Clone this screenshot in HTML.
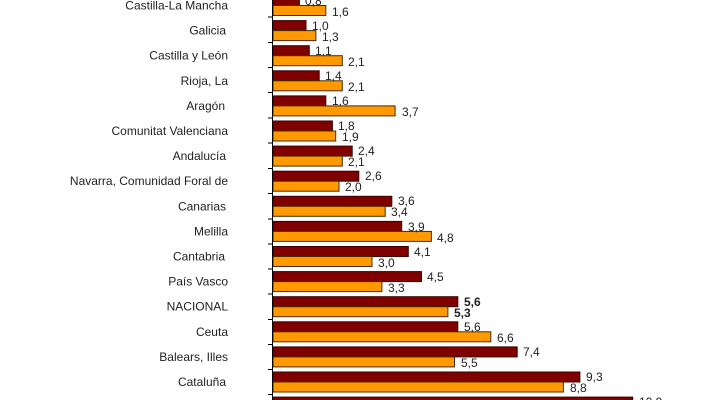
<!DOCTYPE html>
<html><head><meta charset="utf-8"><style>
html,body{margin:0;padding:0;background:#fff;width:722px;height:400px;overflow:hidden}
svg{display:block}
text{font-family:"Liberation Sans",Arial,sans-serif;font-size:12px;fill:#222}
.r{fill:#800000;stroke:#3a0000;stroke-width:1}
.o{fill:#FF9900;stroke:#4a2a00;stroke-width:1}
.c{text-anchor:end}
</style></head><body>
<svg width="722" height="400" viewBox="0 0 722 400">
<g>
<rect class="r" x="273" y="-4.5" width="26.4" height="10"/><rect class="o" x="273" y="5.5" width="52.8" height="10"/>
<rect class="r" x="273" y="20.6" width="33" height="10"/><rect class="o" x="273" y="30.6" width="42.9" height="10"/>
<rect class="r" x="273" y="45.7" width="36.3" height="10"/><rect class="o" x="273" y="55.7" width="69.3" height="10"/>
<rect class="r" x="273" y="70.8" width="46.2" height="10"/><rect class="o" x="273" y="80.8" width="69.3" height="10"/>
<rect class="r" x="273" y="95.9" width="52.8" height="10"/><rect class="o" x="273" y="105.9" width="122.1" height="10"/>
<rect class="r" x="273" y="121" width="59.4" height="10"/><rect class="o" x="273" y="131" width="62.7" height="10"/>
<rect class="r" x="273" y="146.1" width="79.2" height="10"/><rect class="o" x="273" y="156.1" width="69.3" height="10"/>
<rect class="r" x="273" y="171.2" width="85.8" height="10"/><rect class="o" x="273" y="181.2" width="66" height="10"/>
<rect class="r" x="273" y="196.3" width="118.8" height="10"/><rect class="o" x="273" y="206.3" width="112.2" height="10"/>
<rect class="r" x="273" y="221.4" width="128.7" height="10"/><rect class="o" x="273" y="231.4" width="158.4" height="10"/>
<rect class="r" x="273" y="246.5" width="135.3" height="10"/><rect class="o" x="273" y="256.5" width="99" height="10"/>
<rect class="r" x="273" y="271.6" width="148.5" height="10"/><rect class="o" x="273" y="281.6" width="108.9" height="10"/>
<rect class="r" x="273" y="296.7" width="184.8" height="10"/><rect class="o" x="273" y="306.7" width="174.9" height="10"/>
<rect class="r" x="273" y="321.8" width="184.8" height="10"/><rect class="o" x="273" y="331.8" width="217.8" height="10"/>
<rect class="r" x="273" y="346.9" width="244.2" height="10"/><rect class="o" x="273" y="356.9" width="181.5" height="10"/>
<rect class="r" x="273" y="372" width="306.9" height="10"/><rect class="o" x="273" y="382" width="290.4" height="10"/>
<rect class="r" x="273" y="397.1" width="359.7" height="10"/>
</g>
<line x1="272.5" y1="0" x2="272.5" y2="400" stroke="#000" stroke-width="1"/>
<g stroke="#000" stroke-width="1">
<line x1="268" y1="17" x2="273" y2="17"/><line x1="268" y1="42.5" x2="273" y2="42.5"/><line x1="268" y1="67.5" x2="273" y2="67.5"/><line x1="268" y1="92.5" x2="273" y2="92.5"/><line x1="268" y1="118" x2="273" y2="118"/><line x1="268" y1="143" x2="273" y2="143"/><line x1="268" y1="168.5" x2="273" y2="168.5"/><line x1="268" y1="193.5" x2="273" y2="193.5"/><line x1="268" y1="219" x2="273" y2="219"/><line x1="268" y1="244" x2="273" y2="244"/><line x1="268" y1="269" x2="273" y2="269"/><line x1="268" y1="294" x2="273" y2="294"/><line x1="268" y1="319.5" x2="273" y2="319.5"/><line x1="268" y1="344.5" x2="273" y2="344.5"/><line x1="268" y1="369.5" x2="273" y2="369.5"/><line x1="268" y1="394.5" x2="273" y2="394.5"/>
</g>
<g>
<text class="c" x="228" y="9.5">Castilla-La Mancha</text>
<text class="c" x="226" y="34.6">Galicia</text>
<text class="c" x="228" y="59.7">Castilla y León</text>
<text class="c" x="228" y="84.8">Rioja, La</text>
<text class="c" x="225" y="109.9">Aragón</text>
<text class="c" x="228" y="135">Comunitat Valenciana</text>
<text class="c" x="226" y="160.1">Andalucía</text>
<text class="c" x="228" y="185.2">Navarra, Comunidad Foral de</text>
<text class="c" x="226" y="210.3">Canarias</text>
<text class="c" x="228" y="235.4">Melilla</text>
<text class="c" x="225" y="260.5">Cantabria</text>
<text class="c" x="228" y="285.6">País Vasco</text>
<text class="c" x="228" y="310.7">NACIONAL</text>
<text class="c" x="228" y="335.8">Ceuta</text>
<text class="c" x="228" y="360.9">Balears, Illes</text>
<text class="c" x="226" y="386">Cataluña</text>
</g>
<g>
<text x="305" y="5">0,8</text><text x="332" y="16">1,6</text>
<text x="312" y="30">1,0</text><text x="322" y="41">1,3</text>
<text x="315" y="55">1,1</text><text x="348" y="66">2,1</text>
<text x="325" y="80">1,4</text><text x="348" y="91">2,1</text>
<text x="332" y="105">1,6</text><text x="402" y="116">3,7</text>
<text x="338" y="130">1,8</text><text x="342" y="141">1,9</text>
<text x="358" y="155">2,4</text><text x="348" y="166">2,1</text>
<text x="365" y="180">2,6</text><text x="345" y="191">2,0</text>
<text x="398" y="205">3,6</text><text x="391" y="216">3,4</text>
<text x="408" y="231">3,9</text><text x="437" y="242">4,8</text>
<text x="414" y="256">4,1</text><text x="378" y="267">3,0</text>
<text x="427" y="281">4,5</text><text x="388" y="292">3,3</text>
<text x="464" y="306" font-weight="bold">5,6</text><text x="454" y="317" font-weight="bold">5,3</text>
<text x="464" y="331">5,6</text><text x="497" y="342">6,6</text>
<text x="523" y="356">7,4</text><text x="461" y="367">5,5</text>
<text x="586" y="381">9,3</text><text x="570" y="392">8,8</text>
<text x="639" y="406">10,9</text>
</g>
</svg>
</body></html>
